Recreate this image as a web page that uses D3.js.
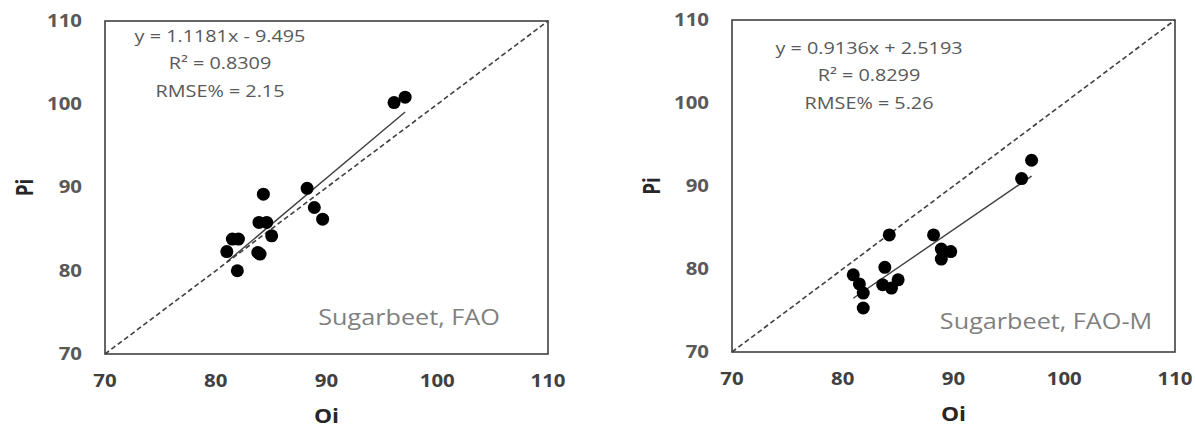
<!DOCTYPE html>
<html>
<head>
<meta charset="utf-8">
<script src="https://cdn.jsdelivr.net/npm/d3@7"></script>
<style>
  body { margin: 0; background: #fff; }
  svg { display: block; font-family: "Open Sans", "Liberation Sans", sans-serif; }
</style>
</head>
<body>
<svg id="chart" width="1195" height="430"></svg>
<script>
// Sugarbeet: observed (Oi) vs predicted (Pi), FAO and FAO-M
const axisTicks = [70, 80, 90, 100, 110];

const oiFAO = [81.0, 81.5, 81.95, 82.05, 83.8, 84.0, 83.9, 84.3, 84.6, 85.05, 88.25, 88.9, 89.65, 96.1, 97.1];
const piFAO = [82.3, 83.8, 80.0, 83.8, 82.2, 82.0, 85.8, 89.2, 85.8, 84.2, 89.9, 87.6, 86.2, 100.2, 100.85];

const oiFAOM = [80.95, 81.5, 81.85, 81.85, 83.6, 83.8, 84.2, 84.4, 85.0, 88.2, 88.9, 88.9, 89.75, 96.15, 97.05];
const piFAOM = [79.3, 78.2, 77.1, 75.3, 78.1, 80.2, 84.1, 77.7, 78.7, 84.1, 82.4, 81.2, 82.1, 90.9, 93.1];

const slopes = [1.1181, 0.9136];
const intercepts = [-9.495, 2.5193];
const eqLabels = [
  ['y = 1.1181x - 9.495', 'R² = 0.8309', 'RMSE% = 2.15'],
  ['y = 0.9136x + 2.5193', 'R² = 0.8299', 'RMSE% = 5.26']
];
const panelNames = ['Sugarbeet, FAO', 'Sugarbeet, FAO-M'];

const SX = 1.2; // the source figure is stretched horizontally
const svg = d3.select('#chart');

const panels = [
  { x0: 105, x1: 548, y0: 21, y1: 354, oi: oiFAO, pi: piFAO, eqX: 220, eqY: 36, nameX: 409, nameY: 318 },
  { x0: 732, x1: 1175, y0: 20, y1: 352, oi: oiFAOM, pi: piFAOM, eqX: 869, eqY: 48, nameX: 1046, nameY: 322 }
];

const at = (x, y) => `translate(${x},${y}) scale(${SX},1)`;

panels.forEach((p, i) => {
  const x = d3.scaleLinear().domain([70, 110]).range([p.x0, p.x1]);
  const y = d3.scaleLinear().domain([70, 110]).range([p.y1, p.y0]);
  const g = svg.append('g');

  // tick labels (no tick marks, as in the source)
  g.selectAll('text.ytick').data(axisTicks).enter().append('text')
    .attr('class', 'ytick')
    .attr('transform', d => at(p.x0 - 23, y(d)))
    .attr('dy', '0.35em').attr('text-anchor', 'end')
    .style('font-size', '17px').style('font-weight', 700).style('fill', '#595959')
    .text(d => d);
  g.selectAll('text.xtick').data(axisTicks).enter().append('text')
    .attr('class', 'xtick')
    .attr('transform', d => at(x(d), p.y1 + 27))
    .attr('dy', '0.35em').attr('text-anchor', 'middle')
    .style('font-size', '17px').style('font-weight', 700).style('fill', '#404040')
    .text(d => d);

  // axis titles
  g.append('text')
    .attr('transform', at((p.x0 + p.x1) / 2, p.y1 + 62))
    .attr('dy', '0.35em').attr('text-anchor', 'middle')
    .style('font-size', '19px').style('font-weight', 700).style('fill', '#262626')
    .text('Oi');
  g.append('text')
    .attr('transform', `translate(${p.x0 - 80},${(p.y0 + p.y1) / 2}) rotate(-90) scale(1,${SX})`)
    .attr('dy', '0.35em').attr('text-anchor', 'middle')
    .style('font-size', '19px').style('font-weight', 700).style('fill', '#262626')
    .text('Pi');

  // 1:1 line
  g.append('line')
    .attr('x1', x(70)).attr('y1', y(70)).attr('x2', x(110)).attr('y2', y(110))
    .attr('stroke', '#404040').attr('stroke-width', 1.6).attr('stroke-dasharray', '5,3');

  // regression line over the observed range
  const [lo, hi] = d3.extent(p.oi);
  const fit = v => slopes[i] * v + intercepts[i];
  g.append('line')
    .attr('x1', x(lo)).attr('y1', y(fit(lo))).attr('x2', x(hi)).attr('y2', y(fit(hi)))
    .attr('stroke', '#404040').attr('stroke-width', 1.4);

  // points
  g.selectAll('circle').data(p.oi.map((v, k) => [v, p.pi[k]])).enter().append('circle')
    .attr('cx', d => x(d[0])).attr('cy', d => y(d[1])).attr('r', 6.5)
    .attr('fill', '#000');

  // frame
  g.append('rect')
    .attr('x', p.x0).attr('y', p.y0).attr('width', p.x1 - p.x0).attr('height', p.y1 - p.y0)
    .attr('fill', 'none').attr('stroke', '#404040').attr('stroke-width', 1.6);

  // equation block
  g.selectAll('text.eq').data(eqLabels[i]).enter().append('text')
    .attr('class', 'eq')
    .attr('transform', (d, k) => at(p.eqX, p.eqY + k * 27.5))
    .attr('dy', '0.35em').attr('text-anchor', 'middle')
    .style('font-size', '16.5px').style('fill', '#595959')
    .text(d => d);

  g.append('text')
    .attr('transform', at(p.nameX, p.nameY))
    .attr('dy', '0.35em').attr('text-anchor', 'middle')
    .style('font-size', '21px').style('fill', '#7f7f7f')
    .text(panelNames[i]);
});
</script>
</body>
</html>
